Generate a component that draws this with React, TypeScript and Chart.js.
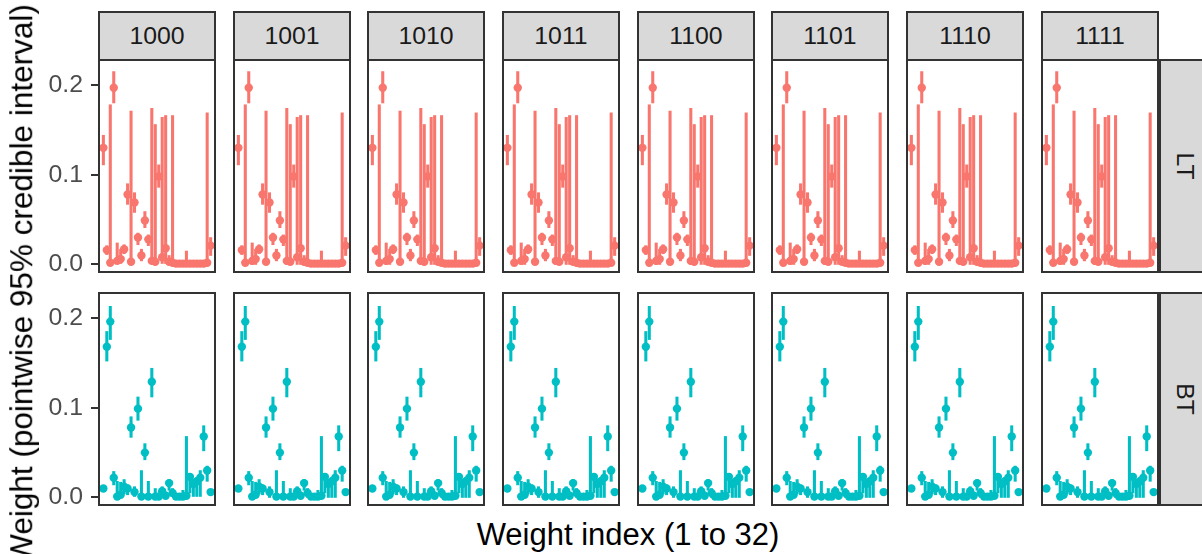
import React, { useEffect, useRef } from "react";
import { Chart, registerables } from "chart.js";

Chart.register(...registerables);

const FONT = "'Liberation Sans', Arial, Helvetica, sans-serif";

// ---------- data ----------
const facetLabels = ["1000", "1001", "1010", "1011", "1100", "1101", "1110", "1111"];
const rowLabels = ["LT", "BT"];
const weightIndex = [
  1, 2, 3, 4, 5, 6, 7, 8, 9, 10, 11, 12, 13, 14, 15, 16,
  17, 18, 19, 20, 21, 22, 23, 24, 25, 26, 27, 28, 29, 30, 31, 32,
];

const ltMean = [
  0.130, 0.016, 0.002, 0.197, 0.004, 0.006, 0.017, 0.078, 0.003, 0.069, 0.030, 0.010, 0.049, 0.028, 0.004, 0.003,
  0.098, 0.008, 0.018, 0.003, 0.002, 0.001, 0.001, 0.001, 0.001, 0.001, 0.001, 0.001, 0.001, 0.001, 0.002, 0.021,
];
const ltLow = [
  0.111, 0.011, 0.000, 0.180, 0.000, 0.000, 0.012, 0.067, 0.000, 0.058, 0.022, 0.004, 0.041, 0.021, 0.000, 0.000,
  0.086, 0.000, 0.000, 0.000, 0.000, 0.000, 0.000, 0.000, 0.000, 0.000, 0.000, 0.000, 0.000, 0.000, 0.000, 0.010,
];
const ltHigh = [
  0.144, 0.021, 0.178, 0.215, 0.024, 0.017, 0.022, 0.090, 0.171, 0.080, 0.035, 0.017, 0.059, 0.033, 0.174, 0.156,
  0.111, 0.164, 0.166, 0.010, 0.166, 0.004, 0.003, 0.004, 0.015, 0.003, 0.003, 0.004, 0.003, 0.004, 0.169, 0.030,
];

const btMean = [
  0.010, 0.168, 0.196, 0.022, 0.001, 0.003, 0.012, 0.010, 0.078, 0.006, 0.099, 0.001, 0.050, 0.001, 0.129, 0.001,
  0.001, 0.007, 0.002, 0.016, 0.005, 0.001, 0.001, 0.001, 0.002, 0.023, 0.015, 0.018, 0.022, 0.068, 0.030, 0.006,
];
const btLow = [
  0.007, 0.152, 0.176, 0.014, 0.000, 0.000, 0.004, 0.003, 0.067, 0.000, 0.086, 0.000, 0.042, 0.000, 0.112, 0.000,
  0.000, 0.001, 0.000, 0.008, 0.000, 0.000, 0.000, 0.000, 0.000, 0.005, 0.000, 0.000, 0.000, 0.052, 0.018, 0.003,
];
const btHigh = [
  0.013, 0.185, 0.213, 0.029, 0.018, 0.017, 0.020, 0.014, 0.090, 0.012, 0.112, 0.030, 0.060, 0.018, 0.144, 0.010,
  0.005, 0.012, 0.006, 0.020, 0.010, 0.003, 0.002, 0.008, 0.068, 0.025, 0.020, 0.022, 0.030, 0.080, 0.035, 0.009,
];

const yTickValues = [0, 0.1, 0.2];
const rowColors = ["#F8766D", "#00BFC4"];
const xAxisTitle = "Weight index (1 to 32)";
const yAxisTitle = "Weight (pointwise 95% credible interval)";

// ---------- layout ----------
const PANEL_LEFTS = [98, 233, 367, 502, 637, 771, 906, 1041];
const PANEL_W = 118;
const PANEL_H = 214;
const ROW_TOPS = [59, 292];
const AXIS_W = 78;
const X_MIN = -0.55;
const X_MAX = 33.55;
const Y_MIN = -0.0095;
const Y_MAX = 0.229;

const panelBorder = {
  id: "panelBorder",
  afterDraw(chart: any) {
    const { ctx, chartArea } = chart;
    const { left, top, right, bottom } = chartArea;
    ctx.save();
    ctx.strokeStyle = "#333333";
    ctx.lineWidth = 2;
    ctx.strokeRect(left + 1, top + 1, right - left - 2, bottom - top - 2);
    ctx.restore();
  },
};

function Panel({ row, col }: { row: number; col: number }) {
  const ref = useRef<HTMLCanvasElement>(null);
  const showAxis = col === 0;
  const width = PANEL_W + (showAxis ? AXIS_W : 0);

  useEffect(() => {
    const mean = row === 0 ? ltMean : btMean;
    const low = row === 0 ? ltLow : btLow;
    const high = row === 0 ? ltHigh : btHigh;
    const color = rowColors[row];
    const chart = new Chart(ref.current as HTMLCanvasElement, {
      type: "scatter",
      data: {
        datasets: [
          {
            type: "bar",
            data: weightIndex.map((x, i) => ({ x, y: [low[i], high[i]] })),
            backgroundColor: color,
            borderWidth: 0,
            barThickness: 2.4,
            order: 2,
          } as any,
          {
            type: "scatter",
            data: weightIndex.map((x, i) => ({ x, y: mean[i] })),
            pointRadius: 4.2,
            pointHoverRadius: 4.2,
            pointBackgroundColor: color,
            pointBorderWidth: 0,
            order: 1,
          } as any,
        ],
      },
      options: {
        animation: false,
        responsive: false,
        events: [],
        layout: { padding: 0, autoPadding: false },
        plugins: { legend: { display: false }, tooltip: { enabled: false } },
        scales: {
          x: { type: "linear", min: X_MIN, max: X_MAX, offset: false, display: false },
          y: {
            type: "linear",
            min: Y_MIN,
            max: Y_MAX,
            offset: false,
            display: showAxis,
            afterBuildTicks: (scale: any) => {
              scale.ticks = yTickValues.map((v) => ({ value: v }));
            },
            afterFit: (scale: any) => {
              if (showAxis) {
                scale.width = AXIS_W;
              }
              scale.paddingTop = 0;
              scale.paddingBottom = 0;
            },
            ticks: {
              callback: (v: any) => Number(v).toFixed(1),
              color: "#4D4D4D",
              font: { size: 24.8, family: FONT },
              padding: 8,
            },
            grid: {
              display: true,
              drawOnChartArea: false,
              drawTicks: true,
              tickLength: 7,
              color: "#333333",
              lineWidth: 2,
            },
            border: { display: false },
          },
        },
      } as any,
      plugins: [panelBorder],
    });
    return () => chart.destroy();
  }, [row, col, showAxis]);

  return (
    <canvas
      ref={ref}
      width={width}
      height={PANEL_H}
      style={{
        position: "absolute",
        left: PANEL_LEFTS[col] - (showAxis ? AXIS_W : 0),
        top: ROW_TOPS[row],
        width,
        height: PANEL_H,
        display: "block",
      }}
    />
  );
}

export default function App() {
  const panels: any[] = [];
  rowLabels.forEach((_, r) => {
    facetLabels.forEach((__, c) => {
      panels.push(<Panel key={`${r}-${c}`} row={r} col={c} />);
    });
  });

  return (
    <div
      style={{
        position: "absolute",
        left: 0,
        top: 0,
        width: 1202,
        height: 554,
        overflow: "hidden",
        background: "#FFFFFF",
        fontFamily: FONT,
      }}
    >
      {facetLabels.map((lab, c) => (
        <div
          key={lab}
          style={{
            position: "absolute",
            left: PANEL_LEFTS[c],
            top: 11,
            width: PANEL_W,
            height: 50,
            boxSizing: "border-box",
            background: "#D9D9D9",
            border: "2px solid #333333",
            display: "flex",
            alignItems: "center",
            justifyContent: "center",
            fontSize: 24.8,
            lineHeight: 1,
            color: "#1A1A1A",
          }}
        >
          {lab}
        </div>
      ))}
      {rowLabels.map((lab, r) => (
        <div
          key={lab}
          style={{
            position: "absolute",
            left: 1159,
            top: ROW_TOPS[r],
            width: 50,
            height: PANEL_H,
            boxSizing: "border-box",
            background: "#D9D9D9",
            border: "2px solid #333333",
          }}
        >
          <div
            style={{
              position: "absolute",
              left: 24,
              top: PANEL_H / 2 - 2,
              transform: "translate(-50%, -50%) rotate(90deg)",
              fontSize: 24.8,
              lineHeight: 1,
              color: "#1A1A1A",
              whiteSpace: "nowrap",
            }}
          >
            {lab}
          </div>
        </div>
      ))}
      {panels}
      <div
        style={{
          position: "absolute",
          left: 628,
          top: 534,
          transform: "translate(-50%, -50%)",
          fontSize: 31,
          lineHeight: 1,
          color: "#000000",
          whiteSpace: "nowrap",
        }}
      >
        {xAxisTitle}
      </div>
      <div
        style={{
          position: "absolute",
          left: 22,
          top: 284,
          transform: "translate(-50%, -50%) rotate(-90deg)",
          fontSize: 31.5,
          lineHeight: 1,
          color: "#000000",
          whiteSpace: "nowrap",
        }}
      >
        {yAxisTitle}
      </div>
    </div>
  );
}
